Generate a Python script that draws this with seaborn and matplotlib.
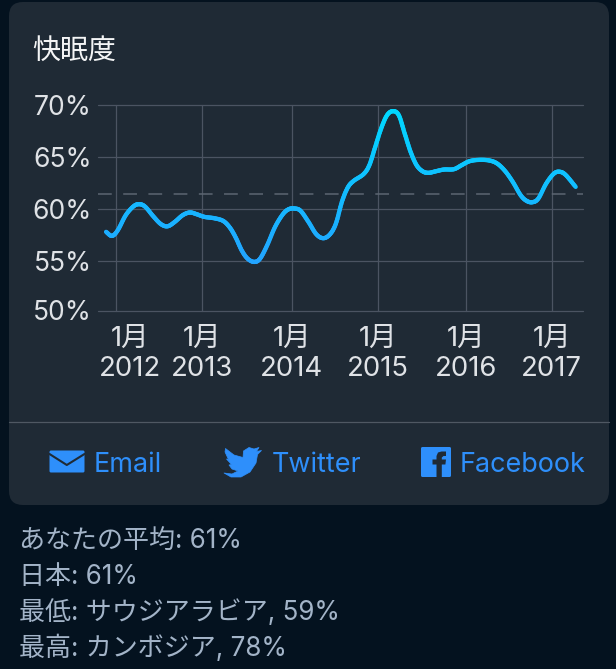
import numpy as np
import pandas as pd
import seaborn as sns
import matplotlib
matplotlib.use("Agg")
import matplotlib.pyplot as plt
from matplotlib.collections import LineCollection
from matplotlib.colors import LinearSegmentedColormap
from matplotlib.patches import FancyBboxPatch, Polygon
from matplotlib.transforms import ScaledTranslation

# ---- data ----
months = [-1.30,-0.49,0.32,1.41,2.49,3.30,4.11,5.19,6.27,7.19,8.16,9.24,10.22,11.14,12.22,13.57,14.81,15.73,
          16.54,17.35,18.16,19.08,19.89,20.86,21.95,23.03,23.84,24.65,25.46,26.54,27.62,28.59,29.51,30.32,31.14,
          31.95,32.76,34.11,34.92,35.73,36.54,37.35,38.16,38.97,39.78,40.59,41.41,42.22,43.03,44.11,45.19,46.54,
          47.62,48.70,50.05,51.41,52.49,53.57,54.65,55.73,56.54,57.35,58.16,59.24,60.32,61.14,61.95,63.30]
sleep = [57.76,57.37,57.92,59.36,60.22,60.42,60.16,59.26,58.49,58.30,58.72,59.36,59.62,59.46,59.20,59.07,58.81,58.17,
         57.21,55.99,55.19,54.87,55.19,56.47,58.24,59.46,59.94,60.00,59.78,58.72,57.53,57.15,57.53,58.56,60.64,
         62.02,62.66,63.30,64.17,65.93,67.69,68.97,69.36,68.97,67.21,65.45,64.17,63.59,63.43,63.59,63.75,63.78,
         64.17,64.55,64.68,64.62,64.33,63.62,62.56,61.28,60.74,60.61,60.96,62.40,63.37,63.53,63.21,62.08]
average = 61.41
x_ticks = [0, 11.84, 24.22, 36.05, 48.16, 60.0]
x_labels = ["1月\n2012", "1月\n2013", "1月\n2014", "1月\n2015", "1月\n2016", "1月\n2017"]
y_ticks = [50.2, 55, 60, 65, 70]
y_labels = ["50%", "55%", "60%", "65%", "70%"]
title = "快眠度"
buttons = ["Email", "Twitter", "Facebook"]
stats = ["あなたの平均: 61%", "日本: 61%", "最低: サウジアラビア, 59%", "最高: カンボジア, 78%"]

BG = "#04121f"; CARD = "#1f2a35"; GRID = "#4b5462"; BLUE = "#2e8ffb"; STAT = "#a3b4c8"
FONT = ["Inter", "Noto Sans CJK JP", "DejaVu Sans"]
sns.set_theme(style="dark")
plt.rcParams["font.family"] = FONT

W, H = 616, 669
PX = 72 / 100
fig = plt.figure(figsize=(W / 100, H / 100), dpi=100, facecolor=BG)

# pixel overlay for the card and footer
bg = fig.add_axes([0, 0, 1, 1], zorder=0)
bg.set_xlim(0, W); bg.set_ylim(H, 0); bg.axis("off")
bg.add_patch(FancyBboxPatch((9 + 14, 2 + 14), 600 - 28, 503 - 28, boxstyle="round,pad=14,rounding_size=14",
                            fc=CARD, ec="none"))
bg.plot([9, 609], [421.5, 421.5], color="#4f5863", lw=0.9)
bg.text(32, 51, title, color="#f4f5f6", fontsize=28 * PX, va="center", ha="left")

# Email icon
bg.add_patch(FancyBboxPatch((50, 451), 34, 21, boxstyle="round,pad=0.5,rounding_size=1.5", fc=BLUE, ec="none"))
bg.plot([49.5, 66.8, 84.5], [454, 465, 454], color=CARD, lw=1.5)
# Twitter icon
bird = [(224, 473), (232, 474), (238, 471), (232, 469), (229, 465), (231.5, 464.5), (226.5, 459), (228.5, 459.5),
        (225, 452), (225.5, 448.5), (234, 455), (243, 457.5), (243.5, 451), (249, 447.5), (254, 449), (259, 447.5),
        (256.5, 451.5), (261.5, 450.5), (257.5, 454.5), (256, 463), (250, 472), (241, 477), (231, 477)]
bg.add_patch(Polygon(bird, closed=True, fc=BLUE, ec=BLUE, lw=0.5, joinstyle="round"))
# Facebook icon
bg.add_patch(FancyBboxPatch((421.5, 447.5), 29, 29, boxstyle="round,pad=0.5,rounding_size=1.5", fc=BLUE, ec="none"))
f_glyph = [(436.5, 477), (436.5, 464.5), (432.5, 464.5), (432.5, 459.5), (436.5, 459.5), (436.5, 456), (438, 452.5),
           (441.5, 451.5), (446, 451.5), (446, 456), (443.5, 456), (441.8, 457.5), (441.8, 459.5), (446, 459.5),
           (445.4, 464.5), (441.8, 464.5), (441.8, 477)]
bg.add_patch(Polygon(f_glyph, closed=True, fc=CARD, ec="none"))

for label, x in zip(buttons, [93.5, 272, 459.5]):
    bg.text(x, 465, label, color=BLUE, fontsize=27 * PX, va="center", ha="left")
for label, y in zip(stats, [541, 577, 613, 648.5]):
    bg.text(19, y, label, color=STAT, fontsize=26 * PX, va="center", ha="left")

# chart
left, right, top, bottom = 98, 583, 104.5, 310.5
ax = fig.add_axes([left / W, 1 - bottom / H, (right - left) / W, (bottom - top) / H], zorder=2)
ax.patch.set_alpha(0)
df = pd.DataFrame({"month": months, "sleep": sleep})
sns.lineplot(data=df, x="month", y="sleep", ax=ax, lw=3.1, color="#1ea7ff", zorder=3, sort=False)
ax.set_xlim(-17.5 / 7.27, (583 - 115.5) / 7.27)
ax.set_ylim(50.2, 70)
ax.set_xlabel(""); ax.set_ylabel("")


def rounded(px, py, n=8):
    """Catmull-Rom stroke through the read points, so the line is drawn as a curve."""
    p = np.column_stack([px, py])
    p = np.vstack([2 * p[0] - p[1], p, 2 * p[-1] - p[-2]])
    out = []
    for i in range(1, len(p) - 2):
        a, b, c, d = p[i - 1], p[i], p[i + 1], p[i + 2]
        for t in np.linspace(0, 1, n, endpoint=False):
            out.append(0.5 * (2 * b + (c - a) * t + (2 * a - 5 * b + 4 * c - d) * t ** 2 + (3 * b - a - 3 * c + d) * t ** 3))
    out.append(p[-2])
    return np.array(out)


# recolour the line with its vertical gradient
line = ax.lines[0]
xy = line.get_xydata()
curve = rounded(xy[:, 0], xy[:, 1])
segs = np.stack([curve[:-1], curve[1:]], axis=1)
cmap = LinearSegmentedColormap.from_list("g", ["#22a4ff", "#00d8ff"])
lc = LineCollection(segs, cmap=cmap, array=(curve[:-1, 1] + curve[1:, 1]) / 2, linewidths=3.1, capstyle="round",
                    joinstyle="round", zorder=3)
lc.set_clim(55, 69.5)
ax.add_collection(lc)
line.set_visible(False)

ax.axhline(average, color="#5c6672", lw=1.1, dashes=(9, 7.5), zorder=2)

ax.set_xticks(x_ticks, x_labels)
ax.set_yticks(y_ticks, y_labels)
ax.grid(True, color=GRID, lw=0.9)
ax.set_axisbelow(True)
for g in ax.get_xgridlines() + ax.get_ygridlines():
    g.set_clip_on(False)
for s in ax.spines.values():
    s.set_visible(False)
ax.tick_params(axis="y", length=0, pad=6 * PX, labelsize=26.5 * PX, labelcolor="#dfe2e6")
ax.tick_params(axis="x", length=0, pad=15 * PX, labelsize=27.5 * PX, labelcolor="#dfe2e6")
for lab in ax.get_xticklabels():
    lab.set_linespacing(1.25)
# the first label is pushed right so that it stays inside the plot
first = ax.get_xticklabels()[0]
first.set_transform(first.get_transform() + ScaledTranslation(14.5 / 100, 0, fig.dpi_scale_trans))

fig.savefig("out.png", dpi=100, facecolor=BG)
